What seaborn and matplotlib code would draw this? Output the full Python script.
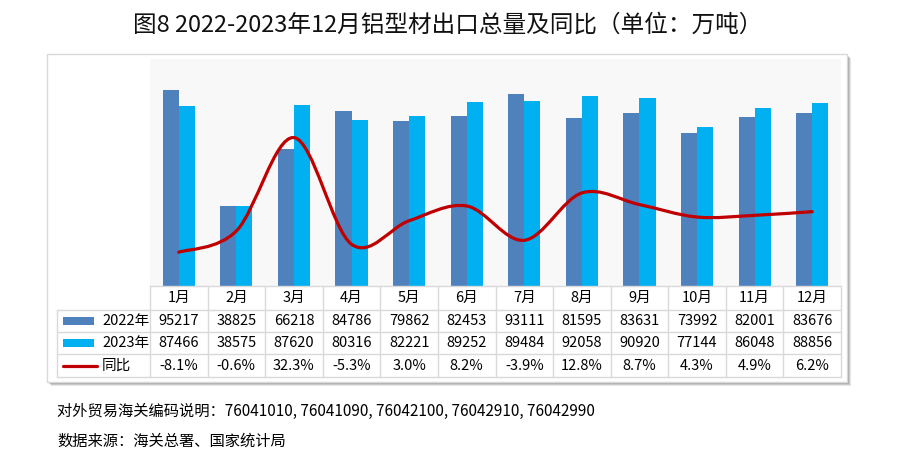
import numpy as np
import pandas as pd
import matplotlib
matplotlib.use("Agg")
import matplotlib.pyplot as plt
from matplotlib.path import Path
from matplotlib.patches import PathPatch, Rectangle
from matplotlib.lines import Line2D
import seaborn as sns

months = ["1月", "2月", "3月", "4月", "5月", "6月", "7月", "8月", "9月", "10月", "11月", "12月"]
v2022 = [95217, 38825, 66218, 84786, 79862, 82453, 93111, 81595, 83631, 73992, 82001, 83676]
v2023 = [87466, 38575, 87620, 80316, 82221, 89252, 89484, 92058, 90920, 77144, 86048, 88856]
yoy = [-8.1, -0.6, 32.3, -5.3, 3.0, 8.2, -3.9, 12.8, 8.7, 4.3, 4.9, 6.2]
series_names = ["2022年", "2023年", "同比"]
title = "图8 2022-2023年12月铝型材出口总量及同比（单位：万吨）"
note1 = "对外贸易海关编码说明：76041010, 76041090, 76042100, 76042910, 76042990"
note2 = "数据来源：海关总署、国家统计局"

C22, C23, CL = "#4F81BD", "#00B0F0", "#C00000"
GRID = "#D9D9D9"

sns.set_theme(style="white")
plt.rcParams["font.family"] = ["Noto Sans CJK SC", "DejaVu Sans"]

W, H = 900, 466
fig = plt.figure(figsize=(9, 4.66), dpi=100)
fig.patch.set_facecolor("white")

def fx(px):
    return px / W

def fy(py):
    return 1 - py / H

# outer frame with soft shadow
box_l, box_t, box_r, box_b = 47, 54, 847, 382
for k, a in [(4, 0.10), (3, 0.12), (2, 0.15)]:
    fig.add_artist(Rectangle((fx(box_l + k), fy(box_b + k)), fx(box_r - box_l), (box_b - box_t) / H,
                             transform=fig.transFigure, facecolor="#000000", alpha=a,
                             edgecolor="none", zorder=-3))
fig.add_artist(Rectangle((fx(box_l), fy(box_b)), fx(box_r - box_l), (box_b - box_t) / H,
                         transform=fig.transFigure, facecolor="white", edgecolor=GRID,
                         lw=1, zorder=-2))

# plot area
pl, pt, pr, pb = 150, 59, 841, 286
ax = fig.add_axes([fx(pl), fy(pb), fx(pr - pl), (pb - pt) / H])
ax.set_zorder(1)
ax.set_facecolor("#F8F8F8")

df = pd.DataFrame({
    "month": months * 2,
    "value": v2022 + v2023,
    "year": [series_names[0]] * 12 + [series_names[1]] * 12,
})
sns.barplot(data=df, x="month", y="value", hue="year", order=months,
            hue_order=series_names[:2], palette=[C22, C23], saturation=1,
            width=0.56, dodge=True, gap=0, edgecolor="none", linewidth=0,
            legend=False, ax=ax)
ax.set_xlim(-0.5, 11.5)
ax.set_ylim(0, 110000)
ax.set_xlabel("")
ax.set_ylabel("")
ax.set_xticks([])
ax.set_yticks([])
for s in ax.spines.values():
    s.set_visible(False)

# smoothed yoy line on secondary axis
ax2 = ax.twinx()
ax2.set_ylim(-20, 60)
ax2.set_yticks([])
for s in ax2.spines.values():
    s.set_visible(False)
x = np.arange(len(yoy), dtype=float)
y = np.array(yoy, dtype=float)
pts = np.column_stack([x, y])
verts = [tuple(pts[0])]
codes = [Path.MOVETO]
n = len(pts)
for i in range(n - 1):
    p0 = pts[max(i - 1, 0)]
    p1 = pts[i]
    p2 = pts[i + 1]
    p3 = pts[min(i + 2, n - 1)]
    c1 = p1 + (p2 - p0) / 6.0
    c2 = p2 - (p3 - p1) / 6.0
    verts += [tuple(c1), tuple(c2), tuple(p2)]
    codes += [Path.CURVE4] * 3
ax2.add_patch(PathPatch(Path(verts, codes), fill=False, edgecolor=CL, lw=2.3,
                        capstyle="round", joinstyle="round"))

# data table
col_w = (pr - pl) / 12
rows_y = [286, 310, 332, 354, 377]
leg_l = 57
fs = 10.5
def hline(x0, x1, yy):
    fig.add_artist(Line2D([fx(x0), fx(x1)], [fy(yy), fy(yy)], transform=fig.transFigure,
                          color=GRID, lw=1))
def vline(xx, y0, y1):
    fig.add_artist(Line2D([fx(xx), fx(xx)], [fy(y0), fy(y1)], transform=fig.transFigure,
                          color=GRID, lw=1))

hline(pl, pr, rows_y[0])
for yy in rows_y[1:]:
    hline(leg_l, pr, yy)
vline(leg_l, rows_y[1], rows_y[-1])
for j in range(13):
    vline(pl + j * col_w, rows_y[0], rows_y[-1])

for j, m in enumerate(months):
    cx = pl + (j + 0.5) * col_w
    fig.text(fx(cx), fy((rows_y[0] + rows_y[1]) / 2), m, ha="center", va="center", fontsize=fs, color="#000000")
    fig.text(fx(cx), fy((rows_y[1] + rows_y[2]) / 2), str(v2022[j]), ha="center", va="center", fontsize=fs, color="#000000")
    fig.text(fx(cx), fy((rows_y[2] + rows_y[3]) / 2), str(v2023[j]), ha="center", va="center", fontsize=fs, color="#000000")
    fig.text(fx(cx), fy((rows_y[3] + rows_y[4]) / 2), f"{yoy[j]:.1f}%", ha="center", va="center", fontsize=fs, color="#000000")

# legend keys in table
for r, (name, col) in enumerate(zip(series_names[:2], [C22, C23])):
    yc = (rows_y[r + 1] + rows_y[r + 2]) / 2
    fig.add_artist(Rectangle((fx(63), fy(yc + 4)), fx(31), 8 / H, transform=fig.transFigure,
                             facecolor=col, edgecolor="none"))
    fig.text(fx(102), fy(yc), name, ha="left", va="center", fontsize=fs, color="#000000")
yc = (rows_y[3] + rows_y[4]) / 2
fig.add_artist(Line2D([fx(63), fx(97)], [fy(yc), fy(yc)], transform=fig.transFigure, color=CL, lw=2.3))
fig.text(fx(102), fy(yc), series_names[2], ha="left", va="center", fontsize=fs, color="#000000")

# title and notes
fig.text(fx(448), fy(25), title, ha="center", va="center", fontsize=17, fontweight="medium", color="#111111")
fig.text(fx(57), fy(411), note1, ha="left", va="center", fontsize=11, color="#000000")
fig.text(fx(57), fy(441), note2, ha="left", va="center", fontsize=11, color="#000000")

fig.savefig("out.png", dpi=100)
